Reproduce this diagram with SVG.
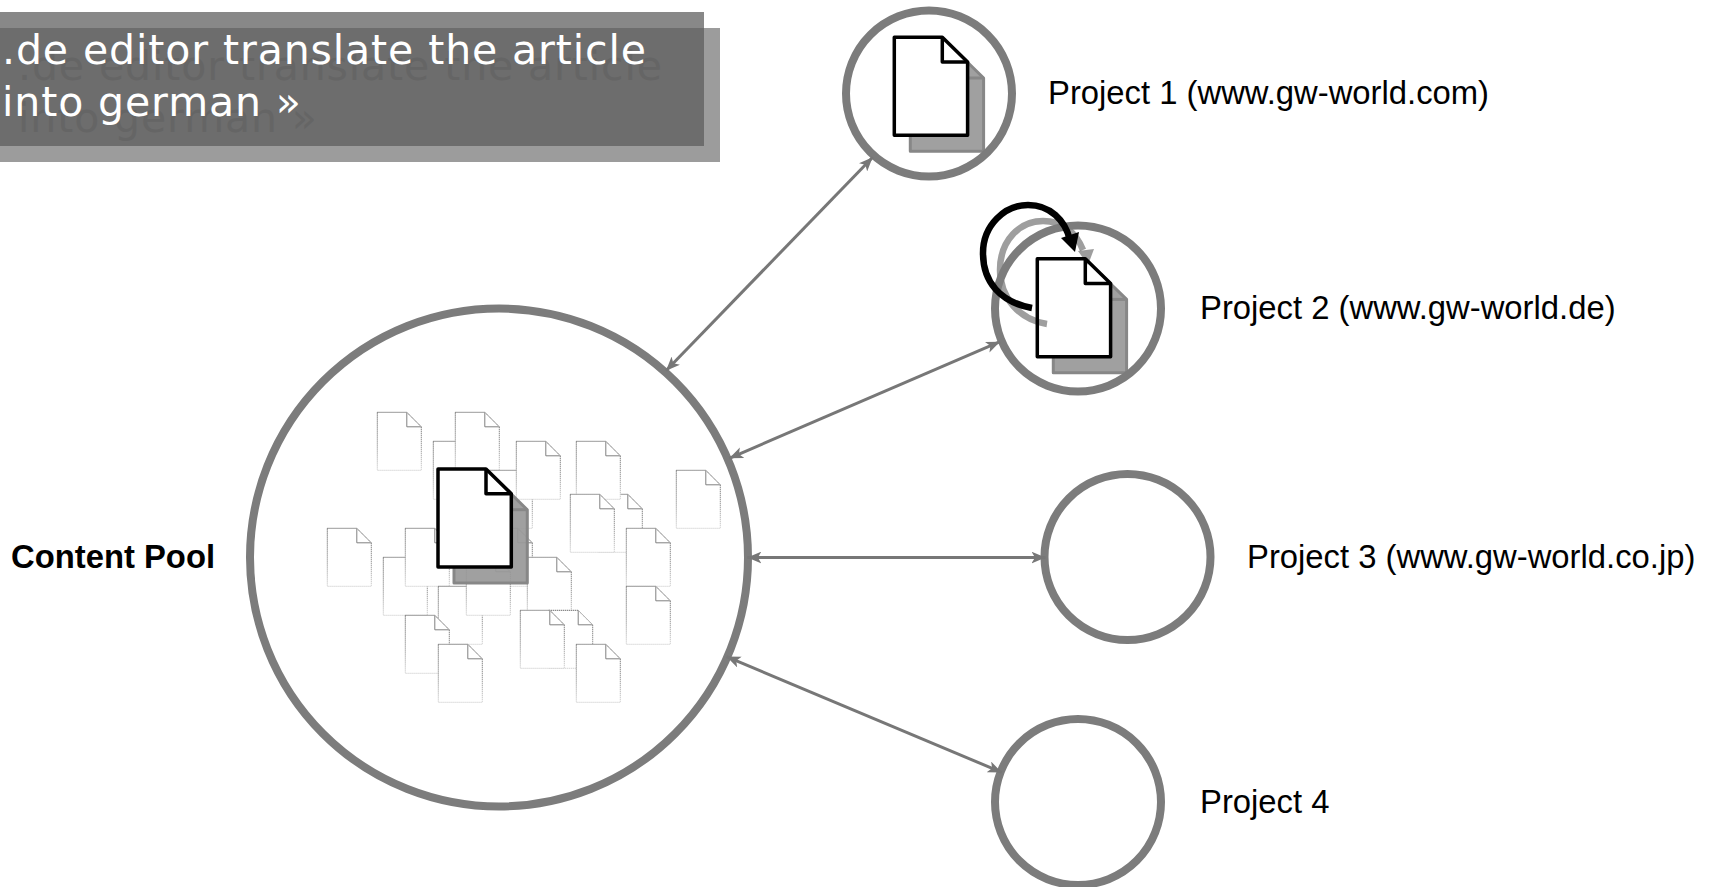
<svg xmlns="http://www.w3.org/2000/svg" width="1713" height="887" viewBox="0 0 1713 887">
<style>
text{font-family:"Liberation Sans",Arial,sans-serif;font-size:32.800px;fill:#000}
.head{font-family:"DejaVu Sans",Verdana,sans-serif;font-size:41px;letter-spacing:.9px}
.ring{fill:#fff;stroke:none}
.ringo{fill:none;stroke:#7c7c7c;stroke-width:8}
.conn{fill:none;stroke:#777;stroke-width:3;marker-start:url(#a);marker-end:url(#a)}
.faint{fill:#fff;stroke:url(#fade);stroke-width:1;stroke-dasharray:1.400 .6}
.fold{fill:none;stroke:#808080;stroke-width:1}
.diag{fill:none;stroke:#bbb;stroke-width:1}
.sh{fill:#999;fill-opacity:.93;stroke:#878787;stroke-width:3;stroke-linejoin:round}
.shf{fill:none;stroke:#878787;stroke-width:3}
.pg{fill:#fff;stroke:#000;stroke-width:3.500;stroke-linejoin:round}
.pgf{fill:none;stroke:#000;stroke-width:3.500;stroke-linejoin:round}
</style>
<defs>
<linearGradient id="fade" x1="0" y1="0" x2="0" y2="1"><stop offset="0" stop-color="#6e6e6e"/><stop offset=".6" stop-color="#999"/><stop offset="1" stop-color="#d4d4d4"/></linearGradient>
<marker id="a" markerWidth="14" markerHeight="12" refX="12" refY="5" orient="auto-start-reverse" markerUnits="userSpaceOnUse" viewBox="0 0 12 10"><path d="M0 0L12 5L0 10L3 5Z" fill="#777"/></marker>
<g id="small"><path class="faint" d="M0 0H29.500L44 14.500V58H0Z"/><path class="fold" d="M29.500 0V14.500H44"/><path class="diag" d="M29.500 0L44 14.500"/></g>
<g id="big">
<path class="sh" d="M16 16H64L89.300 40.700V114H16Z"/>
<path class="shf" d="M64 40.700H89.300"/>
<path class="pg" d="M0 0H48L73.300 24.700V98H0Z"/>
<path class="pgf" d="M48 0V24.700H73.300"/>
</g>
</defs>
<rect width="1713" height="887" fill="#fff"/>
<g id="banner">
<rect x="0" y="28" width="720" height="134" fill="#9c9c9c"/>
<rect x="0" y="12" width="704" height="134" fill="#888"/>
<rect x="0" y="28" width="704" height="118" fill="#6d6d6d"/>
<text class="head" x="18" y="80" style="fill:#656565">.de editor translate the article</text>
<text class="head" x="18" y="132" style="fill:#656565">into german »</text>
<text class="head" x="2" y="64" style="fill:#fff">.de editor translate the article</text>
<text class="head" x="2" y="116" style="fill:#fff">into german »</text>
</g>
<g id="content-pool">
<circle class="ring" cx="499" cy="557.500" r="249"/>
<use href="#small" x="433.300" y="441.300"/>
<use href="#small" x="377.300" y="412.300"/>
<use href="#small" x="455.300" y="412.300"/>
<use href="#small" x="488.300" y="470.300"/>
<use href="#small" x="516.300" y="441.300"/>
<use href="#small" x="676.300" y="470.300"/>
<use href="#small" x="598.300" y="494.300"/>
<use href="#small" x="576.300" y="441.300"/>
<use href="#small" x="570.300" y="494.300"/>
<use href="#small" x="327.300" y="528.300"/>
<use href="#small" x="488.300" y="528.300"/>
<use href="#small" x="383.300" y="557.300"/>
<use href="#small" x="405.300" y="528.300"/>
<use href="#small" x="527.300" y="557.300"/>
<use href="#small" x="438.300" y="586.300"/>
<use href="#small" x="466.300" y="557.300"/>
<use href="#small" x="626.300" y="528.300"/>
<use href="#small" x="626.300" y="586.300"/>
<use href="#small" x="405.300" y="615.300"/>
<use href="#small" x="548.700" y="610.300"/>
<use href="#small" x="520.300" y="610.300"/>
<use href="#small" x="438.300" y="644.300"/>
<use href="#small" x="576.300" y="644.300"/>
<use href="#big" x="438" y="469"/>
<circle class="ringo" cx="499" cy="557.500" r="249"/>
<text x="11" y="568" style="font-weight:bold">Content Pool</text>
</g>
<g id="project-1">
<circle class="ring" cx="929" cy="93.500" r="83"/>
<use href="#big" x="894.300" y="37.300"/>
<circle class="ringo" cx="929" cy="93.500" r="83"/>
<text x="1048" y="104">Project 1 (www.gw-world.com)</text>
</g>
<g id="project-2">
<circle class="ring" cx="1078" cy="308.500" r="83"/>
<use href="#big" x="1037.300" y="258.700"/>
<path d="M1047 324C1020 320 1000 298 1000 270C1000 240 1020 221 1043 221C1062 221 1076 232 1083 250" fill="none" stroke="#000" stroke-opacity=".38" stroke-width="6.500"/>
<path d="M1078 251L1094 249L1088 265Z" fill="#000" fill-opacity=".38"/>
<circle class="ringo" cx="1078" cy="308.500" r="83"/>
<path d="M1032 308C1000 302 983 282 983 253C983 225 1005 205 1028 205C1050 205 1065 220 1070 240" fill="none" stroke="#000" stroke-width="6.500"/>
<path d="M1061 238L1079 232L1075 252Z" fill="#000"/>
<text x="1200" y="319">Project 2 (www.gw-world.de)</text>
</g>
<g id="project-3">
<circle class="ring" cx="1127.500" cy="557" r="83"/>
<circle class="ringo" cx="1127.500" cy="557" r="83"/>
<text x="1247" y="568">Project 3 (www.gw-world.co.jp)</text>
</g>
<g id="project-4">
<circle class="ring" cx="1078" cy="802" r="83"/>
<circle class="ringo" cx="1078" cy="802" r="83"/>
<text x="1200" y="813">Project 4</text>
</g>
<g id="connectors">
<path class="conn" d="M666 370.700L872.700 157.300"/>
<path class="conn" d="M729.300 458.300L1000 341.700"/>
<path class="conn" d="M747.300 557.500H1045.500"/>
<path class="conn" d="M726.500 656.600L1001.800 772.400"/>
</g>
</svg>
